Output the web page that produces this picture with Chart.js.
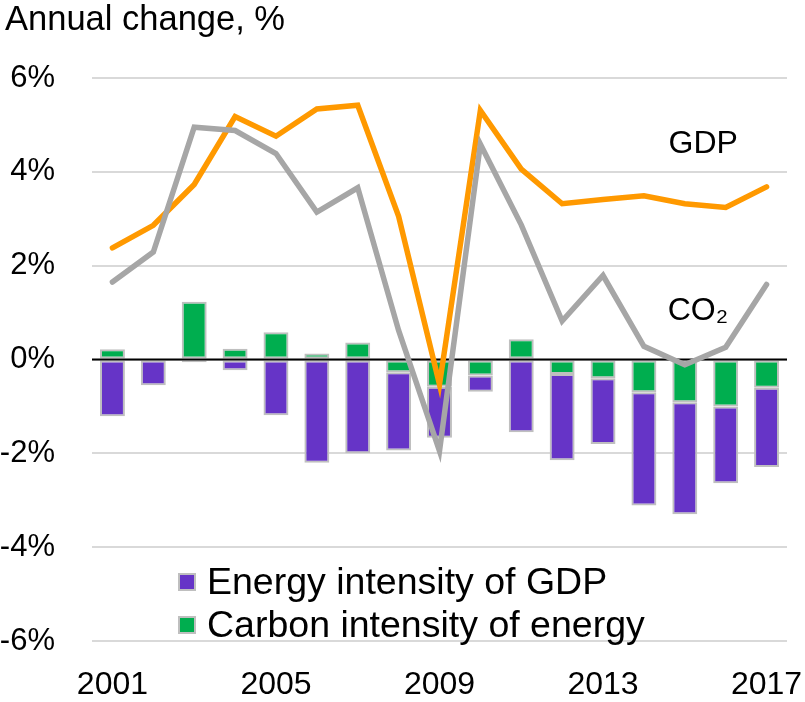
<!DOCTYPE html>
<html><head><meta charset="utf-8">
<script src="https://cdn.jsdelivr.net/npm/chart.js@4"></script>
<style>
html,body{margin:0;padding:0;background:#fff;}
#wrap{position:relative;width:805px;height:702px;font-family:'Liberation Sans',Arial,sans-serif;color:#000;}
#title{position:absolute;left:5px;top:-1px;font-size:34.5px;line-height:38px;white-space:nowrap;}
#legend{position:absolute;left:178px;top:560px;font-size:37.5px;}
.li{display:flex;align-items:center;height:43px;white-space:nowrap;}
.sw{width:14px;height:14px;border:2px solid #bfbfbf;margin-right:11px;flex:none;}
canvas{position:absolute;left:0;top:0;}
</style></head>
<body>
<div id="wrap">
<canvas id="c" width="805" height="702"></canvas>
<div id="title">Annual change, %</div>
<div id="legend"></div>
</div>
<script>
const years = ['2001','2002','2003','2004','2005','2006','2007','2008','2009','2010','2011','2012','2013','2014','2015','2016','2017'];
const gdp = [2.38, 2.86, 3.73, 5.18, 4.76, 5.34, 5.42, 3.05, -0.53, 5.31, 4.06, 3.32, 3.41, 3.49, 3.32, 3.24, 3.68];
const co2 = [1.65, 2.29, 4.95, 4.88, 4.39, 3.14, 3.66, 0.62, -1.95, 4.59, 2.87, 0.82, 1.79, 0.28, -0.11, 0.26, 1.60];
const energyIntensity = [-1.21, -0.55, -0.06, -0.23, -1.19, -2.20, -2.00, -1.67, -1.09, -0.35, -1.55, -1.84, -1.40, -2.41, -2.39, -1.64, -1.69];
const carbonIntensity = [0.22, 0, 1.23, 0.23, 0.58, 0.13, 0.36, -0.27, -0.58, -0.34, 0.43, -0.31, -0.40, -0.70, -0.91, -1.00, -0.60];
const yTicks = [-6, -4, -2, 0, 2, 4, 6];
const legendLabels = ['Energy intensity of GDP', 'Carbon intensity of energy'];
const lineLabels = ['GDP', 'CO₂'];

const FONT = "'Liberation Sans', Arial, sans-serif";
const PURPLE = '#6634C7', GREEN = '#00AE4F', ORANGE = '#FF9900', GRAY = '#A6A6A6', EDGE = '#BFBFBF';

// HTML legend
const legendColors = [PURPLE, GREEN];
const lg = document.getElementById('legend');
legendLabels.forEach((t, i) => {
  const row = document.createElement('div'); row.className = 'li';
  const sw = document.createElement('span'); sw.className = 'sw'; sw.style.background = legendColors[i];
  const tx = document.createElement('span'); tx.textContent = t;
  row.appendChild(sw); row.appendChild(tx); lg.appendChild(row);
});

const overlay = {
  id: 'overlay',
  beforeDatasetDraw(chart, args) {
    if (args.index !== 2) return;
    const {ctx, chartArea, scales: {y}} = chart;
    const py = y.getPixelForValue(0);
    ctx.save();
    ctx.strokeStyle = '#000'; ctx.lineWidth = 2;
    ctx.beginPath(); ctx.moveTo(chartArea.left, py); ctx.lineTo(chartArea.right, py); ctx.stroke();
    ctx.restore();
  },
  afterDatasetsDraw(chart) {
    const {ctx, scales: {x, y}} = chart;
    const step = x.getPixelForValue(1) - x.getPixelForValue(0);
    ctx.save();
    ctx.fillStyle = '#000';
    ctx.font = '32px ' + FONT;
    ctx.textAlign = 'center'; ctx.textBaseline = 'middle';
    ctx.fillText(lineLabels[0], x.getPixelForValue(14) + 0.45 * step, y.getPixelForValue(4.6));
    ctx.fillText(lineLabels[1], x.getPixelForValue(14) + 0.32 * step, y.getPixelForValue(1.03));
    ctx.restore();
  }
};

new Chart(document.getElementById('c'), {
  data: {
    labels: years,
    datasets: [
      {type: 'bar', label: legendLabels[1], data: carbonIntensity, backgroundColor: GREEN, borderColor: EDGE, borderWidth: 2, borderSkipped: false, order: 2, barPercentage: 0.61, categoryPercentage: 1},
      {type: 'bar', label: legendLabels[0], data: energyIntensity, backgroundColor: PURPLE, borderColor: EDGE, borderWidth: 2, borderSkipped: false, order: 3, barPercentage: 0.61, categoryPercentage: 1},
      {type: 'line', label: lineLabels[0], data: gdp, borderColor: ORANGE, borderWidth: 5.5, pointRadius: 0, tension: 0, stack: 'gdp', order: 1, borderCapStyle: 'round', fill: false},
      {type: 'line', label: lineLabels[1], data: co2, borderColor: GRAY, borderWidth: 5.5, pointRadius: 0, tension: 0, stack: 'co2', order: 0, borderCapStyle: 'round', fill: false}
    ]
  },
  options: {
    responsive: false,
    animation: false,
    layout: {padding: {top: 78, right: 18, bottom: 0, left: 0}},
    plugins: {legend: {display: false}, tooltip: {enabled: false}, title: {display: false}},
    scales: {
      x: {
        stacked: true,
        grid: {display: false, drawTicks: false},
        border: {display: false},
        ticks: {
          autoSkip: false, maxRotation: 0, color: '#000', padding: 28,
          font: {size: 32, family: FONT, lineHeight: 1},
          callback(v, i) { return i % 4 === 0 ? years[i] : ''; }
        },
        afterFit(s) { s.height = 61; s.paddingLeft = 0; s.paddingRight = 0; }
      },
      y: {
        stacked: true, min: yTicks[0], max: yTicks[yTicks.length - 1],
        afterBuildTicks(s) { s.ticks = yTicks.map(v => ({value: v})); },
        grid: {color: '#D9D9D9', lineWidth: 2, drawTicks: false},
        border: {display: false},
        ticks: {color: '#000', padding: 37, font: {size: 31, family: FONT}, callback: v => v + '%'},
        afterFit(s) { s.width = 92; }
      }
    }
  },
  plugins: [overlay]
});
</script>
</body></html>
